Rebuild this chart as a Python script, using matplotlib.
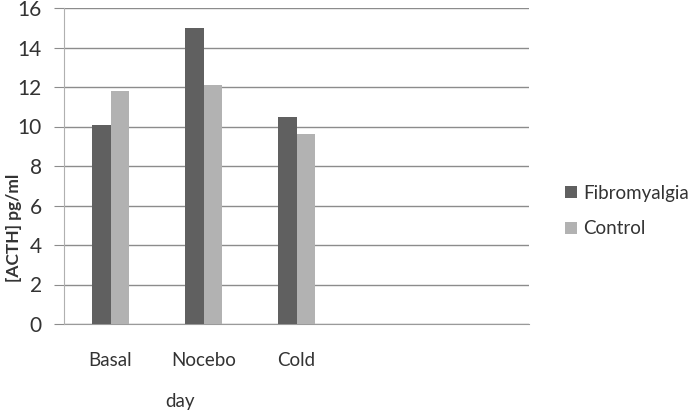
import numpy as np
import matplotlib
matplotlib.use("Agg")
import matplotlib.pyplot as plt

plt.rcParams['font.family'] = ['Lato', 'DejaVu Sans']

categories = ['Basal', 'Nocebo', 'Cold', '', '']
fibromyalgia = [10.1, 15.0, 10.5]
control = [11.8, 12.1, 9.6]

fig = plt.figure(figsize=(6.91, 4.12), dpi=100)
ax = fig.add_axes([64/691, 1-324/412, 465/691, 316/412])

pos = np.arange(len(categories))
barwidth = 0.2
n = len(fibromyalgia)
ax.bar(pos[:n] - barwidth/2, fibromyalgia, barwidth, color='#606060',
       label='Fibromyalgia', zorder=3)
ax.bar(pos[:n] + barwidth/2, control, barwidth, color='#b2b2b2',
       label='Control', zorder=3)

ax.set_xlim(-0.5, len(categories) - 0.5)
ax.set_ylim(0, 16)
ax.set_yticks(range(0, 17, 2))
ax.yaxis.grid(True, color='#8c8c8c', linewidth=1, zorder=0)

ax.set_xticks(pos[:n])
ax.set_xticklabels(categories[:n])
ax.tick_params(axis='x', length=0, pad=20, labelsize=13.5, labelcolor='#333333')
ax.tick_params(axis='y', length=7, color='#8c8c8c', pad=9, labelsize=15,
               labelcolor='#333333')

for s in ['top', 'right']:
    ax.spines[s].set_visible(False)
ax.spines['left'].set_color('#b0b0b0')
ax.spines['bottom'].set_color('#9a9a9a')
ax.spines['left'].set_zorder(4)

fig.text(180/691, 1-402/412, 'day', ha='center', va='center', fontsize=13.5,
         color='#333333')
fig.text(14/691, 1-228/412, '[ACTH] pg/ml', rotation=90, ha='center',
         va='center', fontsize=12.5, fontweight='bold', color='#333333')

ax.legend(loc='center left', bbox_to_anchor=(556/691, 1-211/412),
          bbox_transform=fig.transFigure, frameon=False, fontsize=13.5,
          handlelength=0.6, handleheight=0.6, handletextpad=0.35,
          labelspacing=1.0, labelcolor='#333333', borderpad=0)

fig.savefig('out.png', dpi=100)
